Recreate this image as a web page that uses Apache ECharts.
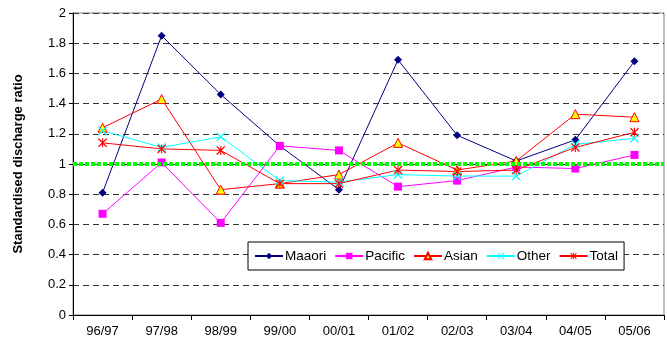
<!DOCTYPE html>
<html><head><meta charset="utf-8">
<script src="https://cdn.jsdelivr.net/npm/echarts@6/dist/echarts.min.js"></script>
<style>html,body{margin:0;padding:0;background:#fff}#c{width:667px;height:348px}</style>
</head><body><div id="c"></div>
<script>
var categories = ['96/97','97/98','98/99','99/00','00/01','01/02','02/03','03/04','04/05','05/06'];
var maaori  = [0.81, 1.85, 1.46, 1.12, 0.83, 1.69, 1.19, 1.02, 1.16, 1.68];
var pacific = [0.67, 1.01, 0.61, 1.12, 1.09, 0.85, 0.89, 0.98, 0.97, 1.06];
var asian   = [1.24, 1.43, 0.83, 0.87, 0.93, 1.14, 0.96, 1.02, 1.33, 1.31];
var other   = [1.22, 1.11, 1.18, 0.89, 0.88, 0.93, 0.92, 0.92, 1.13, 1.17];
var total   = [1.14, 1.10, 1.09, 0.87, 0.87, 0.96, 0.95, 0.96, 1.11, 1.21];
var yTicks = [0, 0.2, 0.4, 0.6, 0.8, 1, 1.2, 1.4, 1.6, 1.8, 2];
var refValue = 1;

var xSym = 'path://M0,1L1,0L5,4L9,0L10,1L6,5L10,9L9,10L5,6L1,10L0,9L4,5Z';
var starSym = 'path://M0,1L1,0L5,4L9,0L10,1L6,5L10,9L9,10L5,6L1,10L0,9L4,5ZM4.4,0L5.6,0L5.6,10L4.4,10Z';
var font = 'Liberation Sans, Arial, sans-serif';

var chart = echarts.init(document.getElementById('c'), null, {renderer:'canvas'});
function mk(name, data, color, symbol, size, extra) {
  var s = {
    name: name, type: 'line', data: data, symbol: symbol, symbolSize: size,
    lineStyle: {color: color, width: 1}, itemStyle: {color: color},
    emphasis: {disabled: true}, z: 3, animation: false
  };
  if (extra) for (var k in extra) s[k] = extra[k];
  return s;
}
var option = {
  animation: false,
  grid: {left: 73, right: 3, top: 13, bottom: 33, show: true, borderColor: '#808080', borderWidth: 1},
  xAxis: {
    type: 'category', data: categories, boundaryGap: true,
    axisLine: {lineStyle: {color: '#000', width: 1}},
    axisTick: {show: true, length: 5, lineStyle: {color: '#000'}},
    axisLabel: {color: '#000', fontSize: 13, fontFamily: font, margin: 10},
    splitLine: {show: false}
  },
  yAxis: {
    type: 'value', min: 0, max: 2, interval: 0.2,
    name: 'Standardised discharge ratio', nameLocation: 'middle', nameGap: 48,
    nameTextStyle: {fontWeight: 'bold', fontSize: 13, fontFamily: font, color: '#000'},
    axisLine: {show: true, lineStyle: {color: '#000'}},
    axisTick: {show: true, length: 4, lineStyle: {color: '#000'}},
    axisLabel: {color: '#000', fontSize: 13, fontFamily: font, margin: 7,
      formatter: function (v) { return String(Math.round(v * 10) / 10); }},
    splitLine: {show: true, lineStyle: {color: '#333', type: [6, 4], width: 1}}
  },
  legend: {
    left: 248, top: 242, width: 380, height: 28,
    itemWidth: 28, itemHeight: 8, itemGap: 8,
    padding: [7, 6, 7, 6],
    borderColor: '#000', borderWidth: 1, backgroundColor: '#fff',
    textStyle: {fontSize: 13.5, fontFamily: font, color: '#000', padding: [0, 0, 0, -3]},
    data: ['Maaori', 'Pacific', 'Asian', 'Other', 'Total']
  },
  series: [
    mk('Maaori', maaori, '#000080', 'diamond', 8),
    mk('Pacific', pacific, '#FF00FF', 'rect', 8),
    mk('Asian', asian, '#FF0000', 'triangle', 9, {itemStyle: {color: '#FFFF00', borderColor: '#FF0000', borderWidth: 1}}),
    mk('Other', other, '#00FFFF', xSym, 9),
    mk('Total', total, '#FF0000', starSym, 9, {
      markLine: {
        silent: true, symbol: 'none', label: {show: false},
        lineStyle: {color: '#00FF00', type: [4, 2], width: 4},
        data: [{yAxis: refValue}]
      }
    })
  ]
};
chart.setOption(option);
</script>
</body></html>
